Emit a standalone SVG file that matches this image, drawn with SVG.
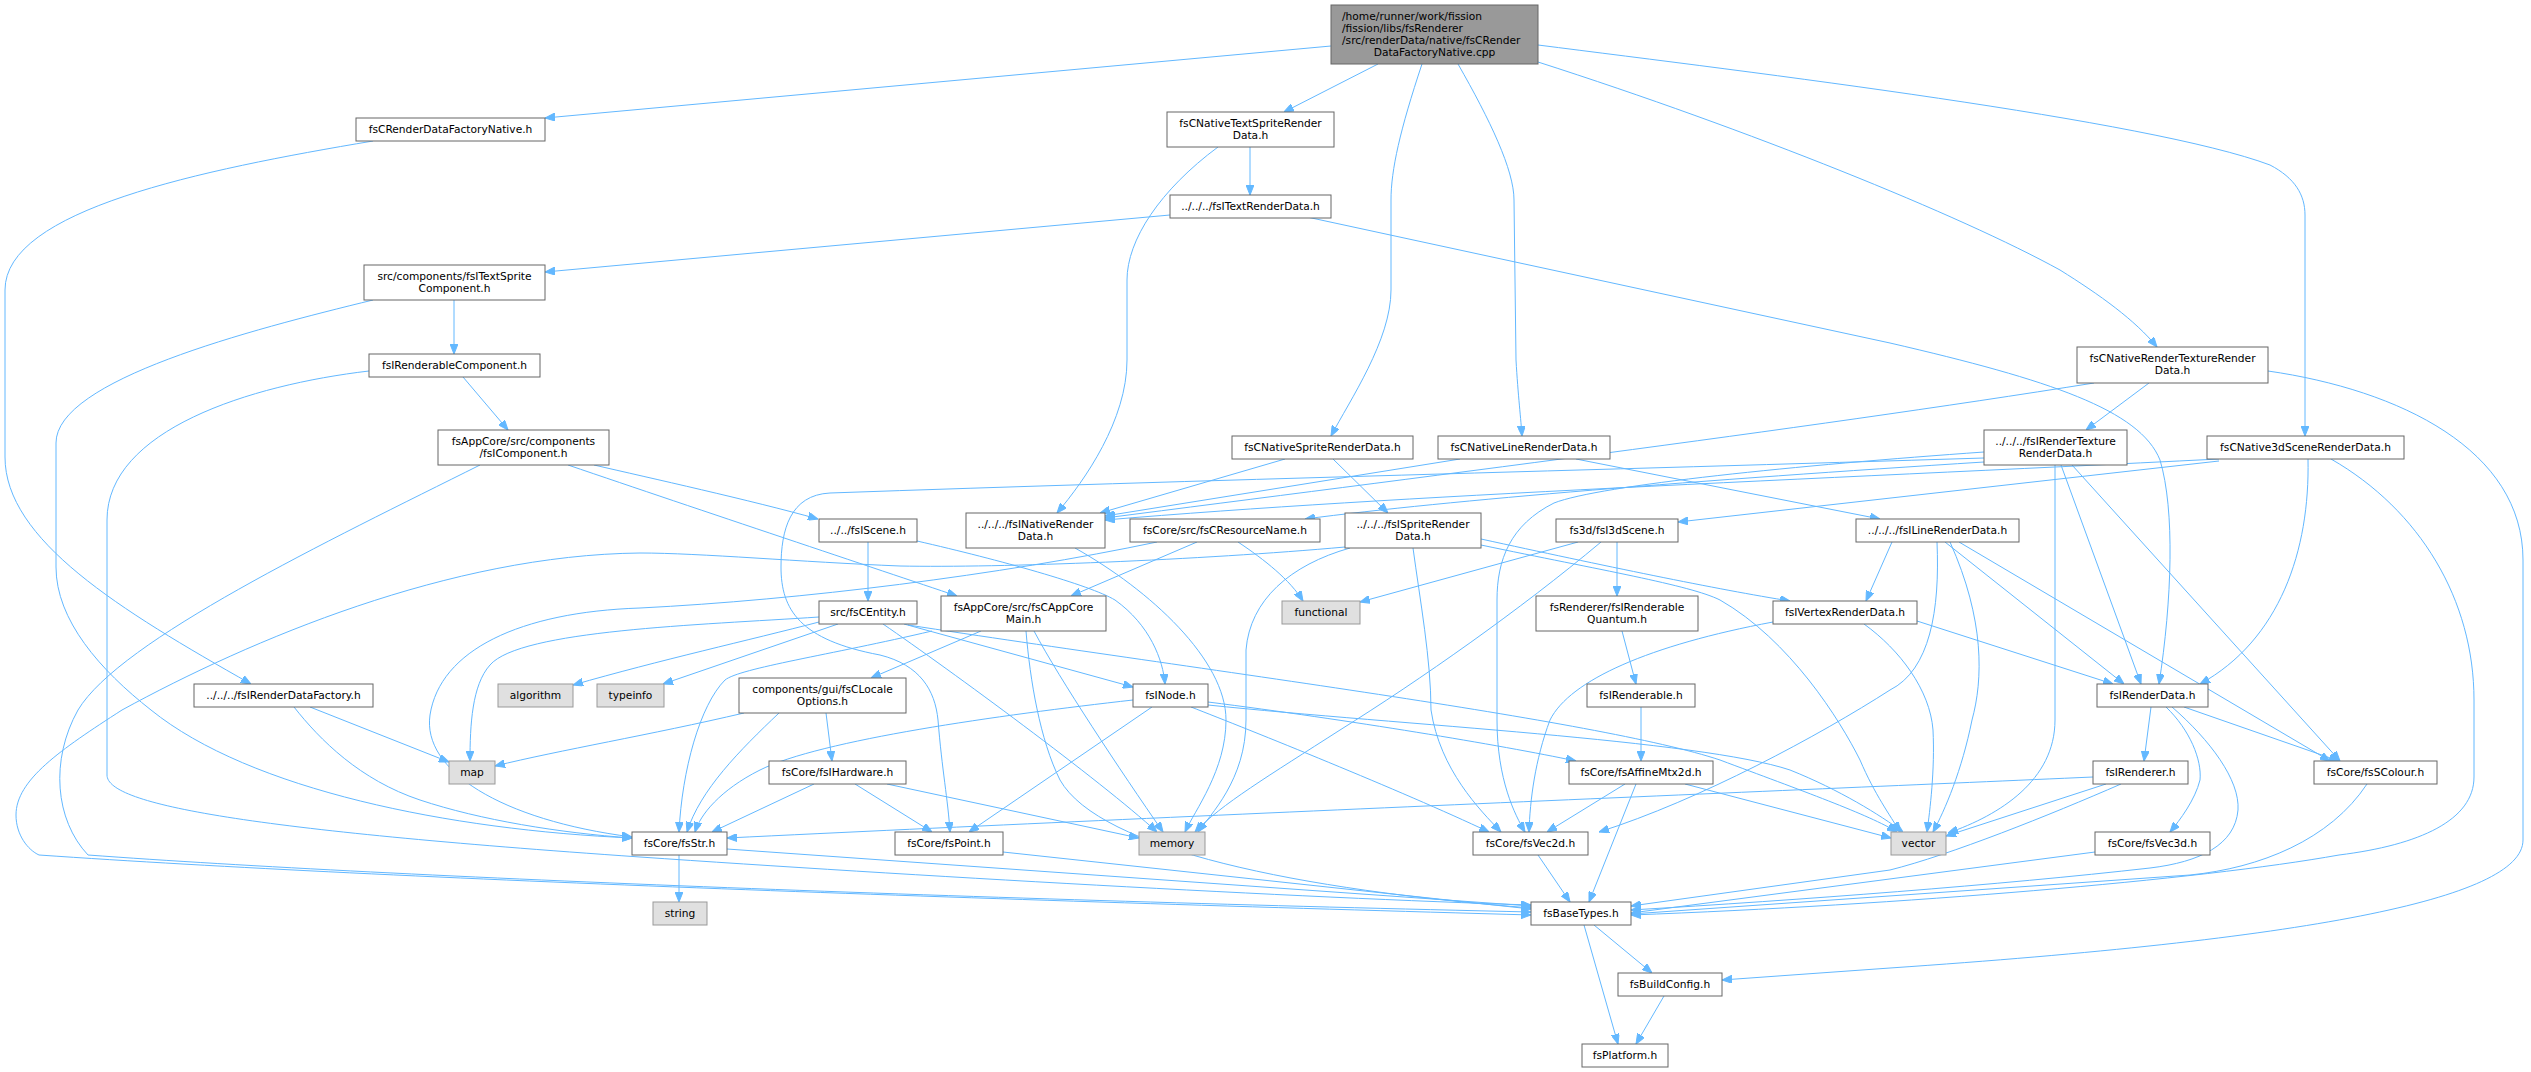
<svg xmlns="http://www.w3.org/2000/svg" width="2531" height="1072" viewBox="0 0 2531 1072">
<style>
.n rect{fill:#fff;stroke:#666;stroke-width:1}
.g rect{fill:#e0e0e0;stroke:#999;stroke-width:1}
.r rect{fill:#999;stroke:#666;stroke-width:1}
text{font-family:"DejaVu Sans",sans-serif;font-size:10.67px;text-anchor:middle;fill:#000}
.l{text-anchor:start}
#edges path{fill:none;stroke:#63b8ff;stroke-width:1;marker-end:url(#a)}
</style>
<defs>
<marker id="a" viewBox="0 0 10 8" refX="10" refY="4" markerWidth="10" markerHeight="8" markerUnits="userSpaceOnUse" orient="auto">
<path d="M0,0 L10,4 L0,8 z" fill="#63b8ff" stroke="#63b8ff"/>
</marker>
</defs>
<rect width="2531" height="1072" fill="#fff"/>
<g id="edges">
<path d="M1331,46 L545,118"/>
<path d="M1378,64 L1284,112"/>
<path d="M1422,64 C1400,130 1391,170 1391,200 L1391,290 C1391,340 1350,400 1331,436"/>
<path d="M1458,64 C1490,120 1514,170 1514,200 L1516,360 C1518,395 1521,420 1522,436"/>
<path d="M1538,62 C1750,130 1960,215 2060,270 C2100,295 2135,320 2157,347"/>
<path d="M1538,45 C1750,72 2150,120 2270,165 C2295,178 2305,195 2305,215 L2305,436"/>
<path d="M373,141 C200,170 5,210 5,290 L5,457 C5,540 120,610 251,684"/>
<path d="M1250,147 L1250,195"/>
<path d="M1218,147 C1160,190 1127,240 1127,280 L1127,360 C1127,420 1085,480 1057,513"/>
<path d="M1170,215 L545,272"/>
<path d="M1307,217 L1890,343 C2050,380 2140,410 2160,460 C2175,510 2172,600 2159,684"/>
<path d="M454,300 L454,354"/>
<path d="M373,300 C250,330 56,380 56,443 L56,567 C56,620 100,670 151,710 C250,790 450,830 632,838"/>
<path d="M463,377 L508,430"/>
<path d="M369,371 C250,385 107,430 107,520 L107,775 C107,805 250,830 640,857 C900,875 1300,898 1531,905"/>
<path d="M480,465 C330,540 120,640 78,710 C50,760 55,820 88,855 C400,878 1000,900 1531,912"/>
<path d="M568,465 C700,510 880,570 957,596"/>
<path d="M594,465 C650,478 750,500 818,519"/>
<path d="M981,631 L871,678"/>
<path d="M932,631 C830,655 740,668 725,680 C700,705 682,770 679,832"/>
<path d="M1034,631 C1060,680 1120,770 1163,832"/>
<path d="M1026,631 C1030,680 1040,740 1060,780 C1100,850 1300,890 1531,908"/>
<path d="M826,713 L832,761"/>
<path d="M779,713 C740,750 700,790 687,832"/>
<path d="M744,713 C650,735 560,750 495,766"/>
<path d="M814,784 L712,832"/>
<path d="M855,784 L932,832"/>
<path d="M887,784 L1139,838"/>
<path d="M1003,852 L1531,909"/>
<path d="M727,849 L1531,906"/>
<path d="M679,855 L679,902"/>
<path d="M1594,925 L1652,973"/>
<path d="M1584,925 L1618,1044"/>
<path d="M1664,996 L1636,1044"/>
<path d="M868,542 L868,601"/>
<path d="M917,541 C1000,560 1090,585 1115,600 C1150,625 1163,660 1165,684"/>
<path d="M904,624 L1133,687"/>
<path d="M819,622 C750,640 660,660 573,685"/>
<path d="M838,624 L663,684"/>
<path d="M819,617 C700,625 520,630 490,665 C472,685 470,725 470,761"/>
<path d="M883,624 C950,670 1100,780 1157,832"/>
<path d="M908,625 C1200,670 1600,720 1720,760 C1800,790 1870,815 1897,832"/>
<path d="M1133,700 C1000,715 820,740 760,770 C720,790 700,815 695,832"/>
<path d="M1152,707 L969,832"/>
<path d="M1191,707 C1250,730 1400,790 1489,832"/>
<path d="M1208,702 C1350,720 1500,745 1576,761"/>
<path d="M1208,705 C1400,725 1700,740 1790,770 C1840,790 1880,815 1903,832"/>
<path d="M1625,784 L1547,832"/>
<path d="M1636,784 L1589,902"/>
<path d="M1685,784 L1891,838"/>
<path d="M1538,855 L1570,902"/>
<path d="M1075,548 C1150,590 1226,660 1226,720 C1226,770 1195,810 1185,832"/>
<path d="M1157,542 C1000,575 800,600 640,608 C520,612 440,650 430,715 C422,770 500,820 632,837"/>
<path d="M1197,542 L1071,596"/>
<path d="M1238,542 C1265,560 1290,580 1303,601"/>
<path d="M1578,542 L1360,602"/>
<path d="M1617,542 L1617,596"/>
<path d="M1601,542 C1520,610 1420,680 1340,730 C1270,775 1220,805 1195,832"/>
<path d="M1622,631 L1636,684"/>
<path d="M1641,707 L1641,761"/>
<path d="M1481,539 C1600,565 1720,590 1790,601"/>
<path d="M1481,545 C1600,570 1690,585 1720,600 C1790,640 1840,720 1860,760 C1875,795 1890,815 1900,832"/>
<path d="M1413,548 C1420,600 1431,660 1431,710 C1440,770 1480,810 1501,832"/>
<path d="M1350,548 C1290,565 1250,600 1246,650 L1246,720 C1246,780 1210,815 1198,832"/>
<path d="M1345,547 C1200,560 1000,568 900,566 C800,562 700,553 640,553 C450,555 250,640 122,710 C60,750 16,780 16,815 C16,835 28,850 39,855 C400,880 1000,900 1531,915"/>
<path d="M1285,459 L1100,513"/>
<path d="M1333,459 L1388,513"/>
<path d="M1460,459 L1105,516"/>
<path d="M1576,459 L1880,519"/>
<path d="M2094,383 C1800,430 1400,480 1105,518"/>
<path d="M2149,383 L2086,430"/>
<path d="M2268,371 C2400,390 2523,450 2523,560 L2523,840 C2523,900 2300,940 1890,968 L1722,980"/>
<path d="M2219,459 C1800,480 1400,495 1105,520"/>
<path d="M2219,461 L1678,522"/>
<path d="M2308,459 C2310,550 2280,640 2200,684"/>
<path d="M2331,459 C2420,510 2474,600 2474,700 L2474,777 C2474,820 2420,845 2339,855 C2200,880 1900,905 1631,915"/>
<path d="M2061,465 L2141,684"/>
<path d="M2055,465 L2055,720 C2055,780 2000,815 1948,833"/>
<path d="M2072,465 L2340,761"/>
<path d="M1984,458 C1600,470 1200,480 830,493 C790,495 781,530 781,567 C781,610 800,640 880,655 C920,665 935,690 938,720 C942,770 948,800 950,832"/>
<path d="M1984,462 C1700,480 1450,500 1305,519"/>
<path d="M1984,452 C1800,465 1600,485 1554,503 C1510,525 1497,560 1497,600 L1497,720 C1497,780 1515,815 1525,832"/>
<path d="M1892,542 L1866,601"/>
<path d="M1937,542 C1940,610 1930,670 1890,690 C1820,735 1700,800 1599,832"/>
<path d="M1950,542 C1985,620 1983,680 1972,720 C1962,770 1945,810 1933,832"/>
<path d="M1945,542 L2124,684"/>
<path d="M1959,542 L2330,761"/>
<path d="M1917,621 L2113,684"/>
<path d="M1864,624 C1900,650 1930,690 1933,730 C1935,770 1930,810 1927,832"/>
<path d="M1773,622 C1650,645 1570,680 1550,720 C1535,760 1530,800 1529,832"/>
<path d="M2151,707 L2144,761"/>
<path d="M2166,707 C2190,730 2202,760 2200,780 C2195,800 2180,820 2170,832"/>
<path d="M2172,707 C2210,740 2240,780 2238,810 C2235,845 2200,862 2150,868 C2000,885 1800,900 1631,910"/>
<path d="M2184,707 L2339,761"/>
<path d="M2106,784 L1946,836"/>
<path d="M2121,784 C2050,815 1950,855 1890,870 L1631,906"/>
<path d="M2093,777 C1800,790 1200,815 727,838"/>
<path d="M2095,852 L1631,913"/>
<path d="M2367,784 C2330,840 2260,868 2190,875 L1631,914"/>
<path d="M294,707 C320,740 360,780 420,800 C480,820 560,833 632,838"/>
<path d="M310,707 L449,762"/>
</g>
<g id="n1" class="r"><rect x="1331" y="5" width="207" height="59"/><text class="l" x="1342" y="20">/home/runner/work/fission</text><text class="l" x="1342" y="32">/fission/libs/fsRenderer</text><text class="l" x="1342" y="44">/src/renderData/native/fsCRender</text><text x="1434.5" y="56">DataFactoryNative.cpp</text></g>
<g id="n2" class="n"><rect x="356" y="118" width="189" height="23"/><text x="450.5" y="133">fsCRenderDataFactoryNative.h</text></g>
<g id="n3" class="n"><rect x="194" y="684" width="179" height="23"/><text x="283.5" y="699">../../../fsIRenderDataFactory.h</text></g>
<g id="n4" class="n"><rect x="632" y="832" width="95" height="23"/><text x="679.5" y="847">fsCore/fsStr.h</text></g>
<g id="n5" class="n"><rect x="1531" y="902" width="100" height="23"/><text x="1581" y="917">fsBaseTypes.h</text></g>
<g id="n6" class="n"><rect x="1618" y="973" width="104" height="23"/><text x="1670" y="988">fsBuildConfig.h</text></g>
<g id="n7" class="n"><rect x="1582" y="1044" width="86" height="23"/><text x="1625" y="1059">fsPlatform.h</text></g>
<g id="n8" class="g"><rect x="653" y="902" width="54" height="23"/><text x="680" y="917">string</text></g>
<g id="n9" class="g"><rect x="449" y="761" width="46" height="23"/><text x="472" y="776">map</text></g>
<g id="n10" class="n"><rect x="1167" y="112" width="167" height="35"/><text x="1250.5" y="127">fsCNativeTextSpriteRender</text><text x="1250.5" y="139">Data.h</text></g>
<g id="n11" class="n"><rect x="1170" y="195" width="161" height="23"/><text x="1250.5" y="210">../../../fsITextRenderData.h</text></g>
<g id="n12" class="n"><rect x="364" y="265" width="181" height="35"/><text x="454.5" y="280">src/components/fsITextSprite</text><text x="454.5" y="292">Component.h</text></g>
<g id="n13" class="n"><rect x="369" y="354" width="171" height="23"/><text x="454.5" y="369">fsIRenderableComponent.h</text></g>
<g id="n14" class="n"><rect x="438" y="430" width="171" height="35"/><text x="523.5" y="445">fsAppCore/src/components</text><text x="523.5" y="457">/fsIComponent.h</text></g>
<g id="n15" class="n"><rect x="941" y="596" width="165" height="35"/><text x="1023.5" y="611">fsAppCore/src/fsCAppCore</text><text x="1023.5" y="623">Main.h</text></g>
<g id="n16" class="n"><rect x="739" y="678" width="167" height="35"/><text x="822.5" y="693">components/gui/fsCLocale</text><text x="822.5" y="705">Options.h</text></g>
<g id="n17" class="n"><rect x="769" y="761" width="137" height="23"/><text x="837.5" y="776">fsCore/fsIHardware.h</text></g>
<g id="n18" class="n"><rect x="895" y="832" width="108" height="23"/><text x="949" y="847">fsCore/fsPoint.h</text></g>
<g id="n19" class="g"><rect x="1139" y="832" width="66" height="23"/><text x="1172" y="847">memory</text></g>
<g id="n20" class="n"><rect x="819" y="519" width="98" height="23"/><text x="868" y="534">../../fsIScene.h</text></g>
<g id="n21" class="n"><rect x="819" y="601" width="98" height="23"/><text x="868" y="616">src/fsCEntity.h</text></g>
<g id="n22" class="n"><rect x="1133" y="684" width="75" height="23"/><text x="1170.5" y="699">fsINode.h</text></g>
<g id="n23" class="n"><rect x="1473" y="832" width="115" height="23"/><text x="1530.5" y="847">fsCore/fsVec2d.h</text></g>
<g id="n24" class="n"><rect x="1569" y="761" width="144" height="23"/><text x="1641" y="776">fsCore/fsAffineMtx2d.h</text></g>
<g id="n25" class="g"><rect x="1891" y="832" width="55" height="23"/><text x="1918.5" y="847">vector</text></g>
<g id="n26" class="g"><rect x="498" y="684" width="75" height="23"/><text x="535.5" y="699">algorithm</text></g>
<g id="n27" class="g"><rect x="597" y="684" width="67" height="23"/><text x="630.5" y="699">typeinfo</text></g>
<g id="n28" class="n"><rect x="2097" y="684" width="111" height="23"/><text x="2152.5" y="699">fsIRenderData.h</text></g>
<g id="n29" class="n"><rect x="2093" y="761" width="95" height="23"/><text x="2140.5" y="776">fsIRenderer.h</text></g>
<g id="n30" class="n"><rect x="2095" y="832" width="115" height="23"/><text x="2152.5" y="847">fsCore/fsVec3d.h</text></g>
<g id="n31" class="n"><rect x="2314" y="761" width="123" height="23"/><text x="2375.5" y="776">fsCore/fsSColour.h</text></g>
<g id="n32" class="n"><rect x="966" y="513" width="139" height="35"/><text x="1035.5" y="528">../../../fsINativeRender</text><text x="1035.5" y="540">Data.h</text></g>
<g id="n33" class="n"><rect x="1232" y="436" width="181" height="23"/><text x="1322.5" y="451">fsCNativeSpriteRenderData.h</text></g>
<g id="n34" class="n"><rect x="1345" y="513" width="136" height="35"/><text x="1413" y="528">../../../fsISpriteRender</text><text x="1413" y="540">Data.h</text></g>
<g id="n35" class="n"><rect x="1773" y="601" width="144" height="23"/><text x="1845" y="616">fsIVertexRenderData.h</text></g>
<g id="n36" class="n"><rect x="1130" y="519" width="190" height="23"/><text x="1225" y="534">fsCore/src/fsCResourceName.h</text></g>
<g id="n37" class="g"><rect x="1282" y="601" width="78" height="23"/><text x="1321" y="616">functional</text></g>
<g id="n38" class="n"><rect x="1438" y="436" width="172" height="23"/><text x="1524" y="451">fsCNativeLineRenderData.h</text></g>
<g id="n39" class="n"><rect x="1856" y="519" width="163" height="23"/><text x="1937.5" y="534">../../../fsILineRenderData.h</text></g>
<g id="n40" class="n"><rect x="2077" y="347" width="191" height="36"/><text x="2172.5" y="362">fsCNativeRenderTextureRender</text><text x="2172.5" y="374">Data.h</text></g>
<g id="n41" class="n"><rect x="1984" y="430" width="143" height="35"/><text x="2055.5" y="445">../../../fsIRenderTexture</text><text x="2055.5" y="457">RenderData.h</text></g>
<g id="n42" class="n"><rect x="2207" y="436" width="197" height="23"/><text x="2305.5" y="451">fsCNative3dSceneRenderData.h</text></g>
<g id="n43" class="n"><rect x="1556" y="519" width="122" height="23"/><text x="1617" y="534">fs3d/fsI3dScene.h</text></g>
<g id="n44" class="n"><rect x="1536" y="596" width="162" height="35"/><text x="1617" y="611">fsRenderer/fsIRenderable</text><text x="1617" y="623">Quantum.h</text></g>
<g id="n45" class="n"><rect x="1587" y="684" width="108" height="23"/><text x="1641" y="699">fsIRenderable.h</text></g>
</svg>
